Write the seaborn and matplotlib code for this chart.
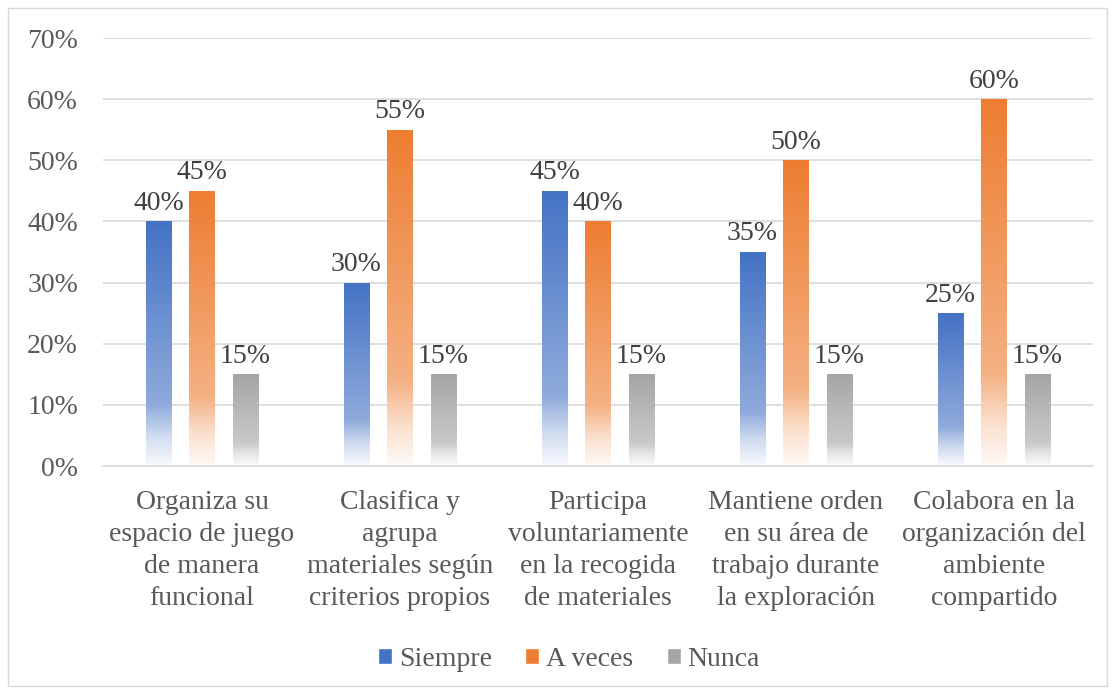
import numpy as np
import pandas as pd
import matplotlib
matplotlib.use("Agg")
import matplotlib.pyplot as plt
import matplotlib.colors as mcolors
from matplotlib.patches import Rectangle
import seaborn as sns

# Data
categorias = [
    "Organiza su\nespacio de juego\nde manera\nfuncional",
    "Clasifica y\nagrupa\nmateriales según\ncriterios propios",
    "Participa\nvoluntariamente\nen la recogida\nde materiales",
    "Mantiene orden\nen su área de\ntrabajo durante\nla exploración",
    "Colabora en la\norganización del\nambiente\ncompartido",
]
series = ["Siempre", "A veces", "Nunca"]
siempre = [40, 30, 45, 35, 25]
a_veces = [45, 55, 40, 50, 60]
nunca = [15, 15, 15, 15, 15]
colores = ["#4472C4", "#ED7D31", "#A5A5A5"]

df = pd.DataFrame({
    "Categoria": categorias * 3,
    "Serie": [s for s in series for _ in categorias],
    "Valor": siempre + a_veces + nunca,
})

sns.set_style("white")
plt.rcParams["font.family"] = ["Liberation Serif", "DejaVu Serif"]
FS = 20

fig = plt.figure(figsize=(11.15, 6.94), dpi=100)
ax = fig.add_axes([103 / 1115, 1 - 466 / 694, 990 / 1115, 428 / 694])

sns.barplot(data=df, x="Categoria", y="Valor", hue="Serie", hue_order=series,
            palette=colores, width=0.66, gap=0.41, ax=ax, legend=False,
            linewidth=0, saturation=1)

ax.set_yticks(range(0, 71, 10))
ax.set_yticklabels([f"{v}%" for v in range(0, 71, 10)])
ax.yaxis.grid(True, color="#D9D9D9", linewidth=1.2)
ax.set_axisbelow(True)
for s in ["top", "right", "left"]:
    ax.spines[s].set_visible(False)
ax.spines["bottom"].set_color("#D9D9D9")
ax.spines["bottom"].set_linewidth(1.2)
ax.tick_params(axis="both", length=0, labelsize=FS, colors="#595959")
ax.tick_params(axis="x", pad=17)
ax.tick_params(axis="y", pad=18)
ax.set_xlabel("")
ax.set_ylabel("")
for lbl in ax.get_xticklabels():
    lbl.set_linespacing(1.37)
    lbl.set_fontsize(FS)

# gradient fill on each bar
stops = np.array([0.0, 0.75, 0.88, 1.0])
mix = np.array([0.0, 0.4, 0.75, 0.96])
ramp = np.linspace(0, 1, 256)
w = np.interp(ramp, stops, mix)


def gradiente(color):
    rgb = np.array(mcolors.to_rgb(color))
    arr = rgb[None, :] * (1 - w[:, None]) + w[:, None]
    return arr[:, None, :]


for patch in list(ax.patches):
    x0, y0 = patch.get_x(), patch.get_y()
    bw, bh = patch.get_width(), patch.get_height()
    fc = mcolors.to_hex(patch.get_facecolor())
    patch.set_facecolor("none")
    im = ax.imshow(gradiente(fc), extent=[x0, x0 + bw, y0, y0 + bh],
                   aspect="auto", origin="upper", zorder=2)
    im.set_clip_path(patch)
    ax.text(x0 + bw / 2, bh + 0.9, f"{bh:.0f}%", ha="center", va="bottom",
            fontsize=FS, color="#404040")
ax.set_xlim(-0.5, 4.5)
ax.set_ylim(0, 70)

# legend
handles = [Rectangle((0, 0), 1, 1, facecolor=c) for c in colores]
fig.legend(handles, series, loc="center", bbox_to_anchor=(569 / 1115, 1 - 659 / 694),
           ncol=3, frameon=False, fontsize=FS, labelcolor="#595959",
           handlelength=0.5, handleheight=0.5, handletextpad=0.25, columnspacing=1.2)

fig.patches.append(Rectangle((8 / 1115, 8 / 694), 1099 / 1115, 678 / 694,
                             transform=fig.transFigure, fill=False,
                             edgecolor="#D9D9D9", linewidth=1))

fig.savefig("out.png", dpi=100)
